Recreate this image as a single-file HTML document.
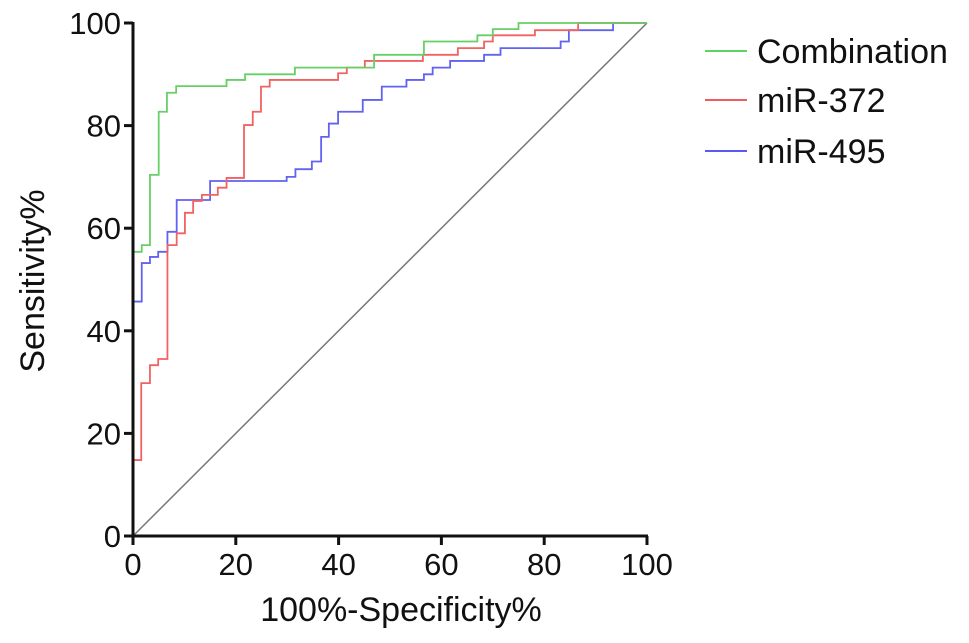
<!DOCTYPE html>
<html><head><meta charset="utf-8"><style>
body{margin:0;background:#fff;}
svg{display:block;font-family:"Liberation Sans",Arial,sans-serif;}
</style></head><body>
<svg id="chart" width="969" height="643" viewBox="0 0 969 643" xmlns="http://www.w3.org/2000/svg">
<g id="plot"></g>
<text x="0" y="0" transform="translate(44,281) rotate(-90)" text-anchor="middle" font-size="34" fill="#111">Sensitivity%</text>
<text x="401" y="621" text-anchor="middle" font-size="34" fill="#111">100%-Specificity%</text>
<g>
<line x1="705" y1="51" x2="747" y2="51" stroke="#5fd35f" stroke-width="2"/>
<text x="757" y="63" font-size="34" fill="#111">Combination</text>
<line x1="705" y1="100" x2="747" y2="100" stroke="#f25c5c" stroke-width="2"/>
<text x="757" y="112" font-size="34" fill="#111">miR-372</text>
<line x1="705" y1="151" x2="747" y2="151" stroke="#5a5af0" stroke-width="2"/>
<text x="757" y="163" font-size="34" fill="#111">miR-495</text>
</g>
</svg>
<script>
const xTicks=[0,20,40,60,80,100];
const yTicks=[0,20,40,60,80,100];
const comboFpr=[0,1.7,3.3,5,6.6,8.4,18.2,21.8,31.5,46.9,56.6,67,70,75];
const comboTpr=[55.4,56.7,70.4,82.7,86.4,87.7,88.9,90,91.3,93.8,96.4,97.6,98.8,100];
const mir372Fpr=[0,1.6,3.3,4.9,6.7,8.5,10.1,11.7,13.4,16.5,18.2,21.6,23.3,24.9,26.6,39.9,41.6,45.1,56.4,63.2,68.3,70,78.2,86.6];
const mir372Tpr=[14.8,29.8,33.3,34.5,56.7,59,63,65.3,66.5,67.9,69.8,80.1,82.7,87.6,88.9,90.2,91.3,92.6,93.8,95.1,96.4,97.6,98.6,100];
const mir495Fpr=[0,1.7,3.3,4.9,6.7,8.5,15,29.9,31.6,34.8,36.6,38.1,39.9,44.7,48.4,53.2,56.6,58.3,61.7,68.3,71.5,83.2,84.8,93.4];
const mir495Tpr=[45.7,53.2,54.4,55.4,59.3,65.5,69.2,70,71.5,73,77.8,80.4,82.7,85,87.6,88.9,90,91.3,92.6,93.8,95.1,96.4,98.6,100];
const X0=133,X1=647,Y0=536,Y1=23;
const sx=v=>X0+(X1-X0)*v/100, sy=v=>Y0-(Y0-Y1)*v/100;
const NS="http://www.w3.org/2000/svg", g=document.getElementById('plot');
function mk(t,a){const e=document.createElementNS(NS,t);for(const k in a)e.setAttribute(k,a[k]);g.appendChild(e);return e;}
const diag=mk('line',{x1:sx(0),y1:sy(0),x2:sx(100),y2:sy(100),stroke:'#777','stroke-width':1.5});


function curve(f,t,col,name){let d='M'+sx(0)+','+sy(0);for(let i=0;i<f.length;i++){d+=' H'+sx(f[i])+' V'+sy(t[i]);}d+=' H'+sx(100)+' V'+sy(100);
const p=mk('path',{d:d,fill:'none',stroke:col,'stroke-width':1.8});

}
curve(mir495Fpr,mir495Tpr,'#6262f2','curve-mir-495');
curve(mir372Fpr,mir372Tpr,'#f26262','curve-mir-372');
curve(comboFpr,comboTpr,'#66d066','curve-combination');
const ya=mk('line',{x1:X0,y1:Y1-1,x2:X0,y2:Y0+1,stroke:'#111','stroke-width':3});


const xa=mk('line',{x1:X0-1,y1:Y0,x2:X1+1,y2:Y0,stroke:'#111','stroke-width':3});


yTicks.forEach(v=>{const t=mk('line',{x1:X0-9,y1:sy(v),x2:X0,y2:sy(v),stroke:'#111','stroke-width':3});


const l=mk('text',{x:X0-12,y:sy(v)+11,'text-anchor':'end','font-size':31,fill:'#111'});l.textContent=v;

});
xTicks.forEach(v=>{const t=mk('line',{x1:sx(v),y1:Y0,x2:sx(v),y2:Y0+9,stroke:'#111','stroke-width':3});


const l=mk('text',{x:sx(v),y:Y0+39,'text-anchor':'middle','font-size':31,fill:'#111'});l.textContent=v;

});
</script>
</body></html>
